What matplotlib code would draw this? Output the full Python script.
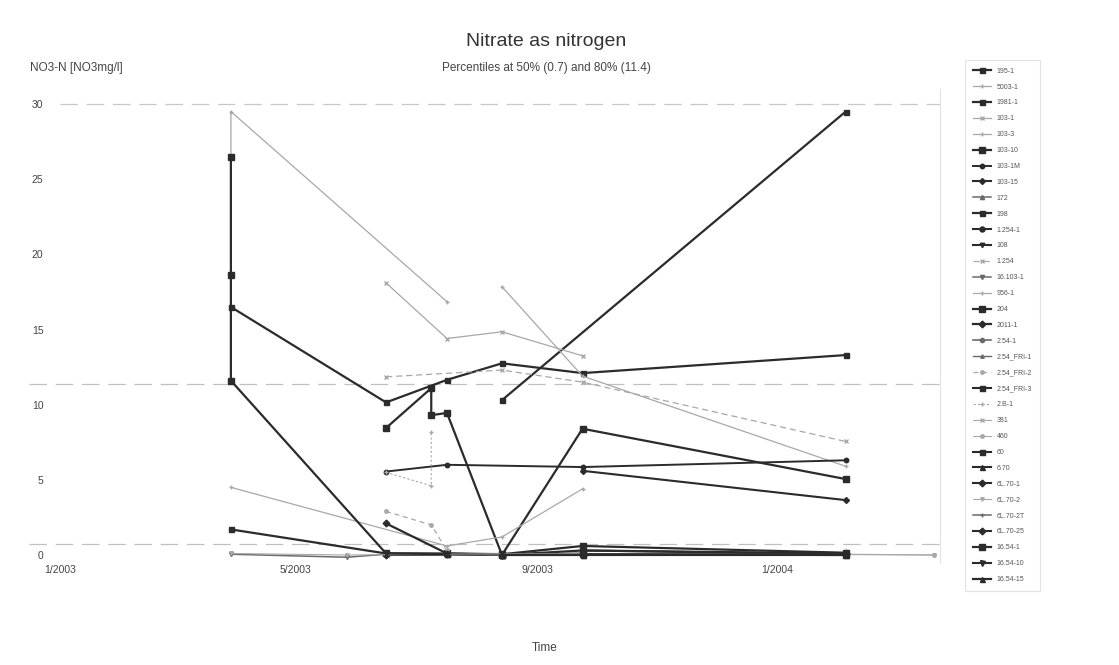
import matplotlib
matplotlib.use("Agg")
import matplotlib.pyplot as plt
from datetime import datetime

plt.rcParams['font.family'] = ['Liberation Sans', 'DejaVu Sans']

# ---------------- data ----------------
series_labels = ["195-1", "5003-1", "1981-1", "103-1", "103-3", "103-10", "103-1M", "103-15",
                 "172", "198", "1.254-1", "108", "1.254", "16.103-1", "956-1", "204", "2011-1",
                 "2.54-1", "2.54_FRI-1", "2.54_FRI-2", "2.54_FRI-3", "2.B-1", "381", "460", "60",
                 "6.70", "6L.70-1", "6L.70-2", "6L.70-2T", "6L.70-25", "16.54-1", "16.54-10", "16.54-15"]

series_dates = [
    ["2003-03-29", "2003-06-16", "2003-07-17", "2003-08-14", "2003-09-24", "2004-02-05"],  # 195-1
    ["2003-03-29", "2003-03-29", "2003-07-17"],                                            # 5003-1
    ["2003-08-14", "2004-02-05"],                                                          # 1981-1
    ["2003-06-16", "2003-07-17", "2003-08-14", "2003-09-24"],                              # 103-1
    ["2003-08-14", "2003-09-24", "2004-02-05"],                                            # 103-3
    ["2003-06-16", "2003-07-09", "2003-07-09", "2003-07-17", "2003-08-14", "2003-09-24", "2004-02-05"],  # 103-10
    ["2003-06-16", "2003-07-17", "2003-09-24", "2004-02-05"],                              # 103-1M
    ["2003-09-24", "2004-02-05"],                                                          # 103-15
    ["2003-07-17", "2003-08-14"],                                                          # 172
    ["2003-03-29", "2003-06-16", "2003-07-17", "2003-08-14"],                              # 198
    ["2003-09-24", "2004-02-05"],                                                          # 1.254-1
    ["2003-06-16", "2003-08-14"],                                                          # 108
    ["2003-06-16", "2003-08-14", "2003-09-24", "2004-02-05"],                              # 1.254
    ["2003-03-29", "2003-05-27", "2003-06-16"],                                            # 16.103-1
    ["2003-03-29", "2003-07-17", "2003-08-14", "2003-09-24"],                              # 956-1
    ["2003-03-29", "2003-03-29", "2003-03-29", "2003-06-16", "2003-07-17", "2003-08-14", "2003-09-24", "2004-02-05"],  # 204
    ["2003-06-16", "2003-07-17", "2003-08-14", "2003-09-24", "2004-02-05"],                # 2011-1
    ["2003-06-16", "2003-07-17"],                                                          # 2.54-1
    ["2003-07-17", "2003-09-24"],                                                          # 2.54_FRI-1
    ["2003-06-16", "2003-07-09", "2003-07-17"],                                            # 2.54_FRI-2
    ["2003-07-17", "2003-08-14", "2003-09-24"],                                            # 2.54_FRI-3
    ["2003-06-16", "2003-07-09", "2003-07-09"],                                            # 2.B-1
    ["2003-09-24", "2004-02-05"],                                                          # 381
    ["2004-02-05", "2004-03-21"],                                                          # 460
    ["2003-08-14", "2003-09-24"],                                                          # 60
    ["2003-09-24", "2004-02-05"],                                                          # 6.70
    ["2003-06-16", "2003-07-17"],                                                          # 6L.70-1
    ["2003-03-29", "2003-05-27", "2003-09-24", "2004-03-21"],                              # 6L.70-2
    ["2003-07-17", "2003-08-14"],                                                          # 6L.70-2T
    ["2003-08-14", "2004-02-05"],                                                          # 6L.70-25
    ["2003-09-24", "2004-02-05"],                                                          # 16.54-1
    ["2003-06-16", "2003-07-17"],                                                          # 16.54-10
    ["2003-08-14", "2003-09-24"],                                                          # 16.54-15
]

series_values = [
    [16.5, 10.15, 11.65, 12.75, 12.1, 13.3],
    [26.5, 29.5, 16.85],
    [10.3, 29.5],
    [18.1, 14.4, 14.85, 13.25],
    [17.85, 11.9, 5.9],
    [8.45, 11.1, 9.3, 9.45, 0.0, 8.4, 5.05],
    [5.55, 6.0, 5.85, 6.3],
    [5.6, 3.65],
    [0.1, 0.0],
    [1.7, 0.1, 0.05, 0.0],
    [0.3, 0.05],
    [0.05, 0.05],
    [11.85, 12.3, 11.5, 7.55],
    [0.05, -0.15, 0.05],
    [4.5, 0.6, 1.2, 4.4],
    [26.5, 18.6, 11.6, 0.1, 0.1, 0.05, 0.6, 0.15],
    [2.1, 0.1, 0.0, 0.3, 0.1],
    [0.0, 0.0],
    [0.1, 0.05],
    [2.9, 2.0, 0.3],
    [0.05, 0.0, 0.1],
    [5.5, 4.6, 8.2],
    [0.0, 0.0],
    [0.05, 0.0],
    [0.0, 0.05],
    [0.0, 0.0],
    [0.0, 0.05],
    [0.1, 0.0, 0.1, 0.0],
    [0.05, 0.0],
    [0.0, 0.05],
    [0.05, 0.0],
    [0.1, 0.05],
    [0.0, 0.0],
]

percentile_values = [0.7, 11.4]
percentile_subtitle = "Percentiles at 50% (0.7) and 80% (11.4)"
y_ticks = [0, 5, 10, 15, 20, 25, 30]
x_tick_dates = ["2003-01-01", "2003-05-01", "2003-09-01", "2004-01-01"]
x_tick_labels = ["1/2003", "5/2003", "9/2003", "1/2004"]

# ---------------- styles ----------------
DARK, MID, LIGHT = "#2b2b2b", "#6a6a6a", "#a8a8a8"
# (color, linewidth, marker, markersize, linestyle)
styles = [
    (DARK, 1.6, "s", 3.6, "-"), (LIGHT, 0.9, "+", 3, "-"), (DARK, 1.6, "s", 3.6, "-"),
    (LIGHT, 0.9, "x", 2.5, "-"), (LIGHT, 0.9, "+", 2.5, "-"), (DARK, 1.6, "s", 4, "-"),
    (DARK, 1.4, "o", 3.2, "-"), (DARK, 1.5, "D", 3, "-"), (MID, 1.1, "^", 3, "-"),
    (DARK, 1.6, "s", 3.6, "-"), (DARK, 1.5, "o", 3.6, "-"), (DARK, 1.5, "v", 3.2, "-"),
    (LIGHT, 0.9, "x", 2.5, (0, (5, 3))), (MID, 1.1, "v", 3, "-"), (LIGHT, 0.9, "+", 2.5, "-"),
    (DARK, 1.6, "s", 4, "-"), (DARK, 1.6, "D", 3.4, "-"), (MID, 1.2, "o", 3, "-"),
    (MID, 1.0, "^", 2.5, "-"), (LIGHT, 0.9, "o", 2.5, (0, (4, 3))), (DARK, 1.5, "s", 3.6, "-"),
    (LIGHT, 0.8, "+", 2.5, (0, (2, 2))), (LIGHT, 0.8, "x", 2.5, "-"), (LIGHT, 0.8, "o", 2.5, "-"),
    (DARK, 1.5, "s", 3.6, "-"), (DARK, 1.5, "^", 3.6, "-"), (DARK, 1.5, "D", 3.4, "-"),
    (LIGHT, 0.8, "v", 2.5, "-"), (MID, 1.1, "+", 3, "-"), (DARK, 1.5, "D", 3.4, "-"),
    (DARK, 1.6, "s", 4, "-"), (DARK, 1.5, "v", 3.6, "-"), (DARK, 1.6, "^", 3.6, "-"),
]

# ---------------- figure ----------------
W, H = 1119, 665
fig = plt.figure(figsize=(W / 100, H / 100), dpi=100)
ax_left, ax_right = 60, 940
ax_top, ax_bottom = 89, 562.5
ax = fig.add_axes([ax_left / W, 1 - ax_bottom / H, (ax_right - ax_left) / W, (ax_bottom - ax_top) / H])

ax.set_xlim(datetime(2003, 1, 1), datetime(2004, 3, 24))
ax.set_ylim(-0.5, 31)

# grid / percentile lines
ax.axhline(30, color="#c8c8c8", lw=0.9, dashes=(14, 7), zorder=0)
for p in percentile_values:
    ax.axhline(p, xmin=-0.035, xmax=1.0, color="#c0c0c0", lw=0.9, dashes=(14, 7), zorder=0, clip_on=False)

handles = []
for lab, ds, vs, st in zip(series_labels, series_dates, series_values, styles):
    col, lw, mk, ms, ls = st
    xs = [datetime.strptime(d, "%Y-%m-%d") for d in ds]
    (ln,) = ax.plot(xs, vs, color=col, lw=lw, marker=mk, ms=ms, ls=ls,
                    markeredgecolor=col, markerfacecolor=col, label=lab, clip_on=False, zorder=3)
    handles.append(ln)

ax.set_yticks(y_ticks)
ax.set_yticklabels([str(t) for t in y_ticks])
ax.set_xticks([datetime.strptime(d, "%Y-%m-%d") for d in x_tick_dates])
ax.set_xticklabels(x_tick_labels)
ax.tick_params(axis="both", length=0, labelsize=7.5, labelcolor="#444444")
ax.tick_params(axis="y", pad=12)
ax.tick_params(axis="x", pad=2)
for s in ["left", "top", "bottom"]:
    ax.spines[s].set_visible(False)
ax.spines["right"].set_color("#e2e2e2")
ax.spines["right"].set_linewidth(0.8)

# texts
fig.text(546 / W, 1 - 41 / H, "Nitrate as nitrogen", ha="center", va="center", fontsize=14, color="#333333")
fig.text(546 / W, 1 - 68 / H, percentile_subtitle, ha="center", va="center", fontsize=8.5, color="#444444")
fig.text(30 / W, 1 - 68 / H, "NO3-N [NO3mg/l]", ha="left", va="center", fontsize=8.5, color="#444444")
fig.text(545 / W, 1 - 648 / H, "Time", ha="center", va="center", fontsize=8.5, color="#444444")

leg = fig.legend(handles=handles, loc="upper left", bbox_to_anchor=(965 / W, 1 - 60 / H),
                 fontsize=5, labelspacing=1.28, handlelength=2.6, handletextpad=0.9,
                 borderpad=1.1, borderaxespad=0, frameon=True, fancybox=False, markerscale=1.0)
leg.get_frame().set_edgecolor("#dddddd")
leg.get_frame().set_linewidth(0.8)
for t in leg.get_texts():
    t.set_color("#555555")

fig.savefig("out.png", dpi=100)
